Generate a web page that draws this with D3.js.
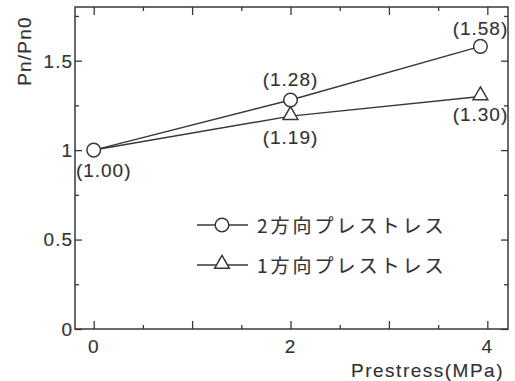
<!DOCTYPE html>
<html>
<head>
<meta charset="utf-8">
<script src="https://cdn.jsdelivr.net/npm/d3@7"></script>
<style>
  body { margin: 0; background: #fff; }
  svg { display: block; font-family: "Liberation Sans", Arial, sans-serif; }
</style>
</head>
<body>
<svg id="chart" width="515" height="381"></svg>
<script>
// Values
var prestress = [0, 2, 3.93];
var twoWay = [1.00, 1.28, 1.58];
var oneWay = [1.00, 1.19, 1.30];
var twoWayLabels = ['(1.00)', '(1.28)', '(1.58)'];
var oneWayLabels = ['', '(1.19)', '(1.30)'];
var legendNames = ['2方向プレストレス', '1方向プレストレス'];
var yMajor = [0, 0.5, 1, 1.5];
var yMinor = [0.25, 0.75, 1.25, 1.75];
var xMajor = [0, 1, 2, 3, 4];
var xMinor = [0.5, 1.5, 2.5, 3.5];
var xLabels = [0, 2, 4];

var ink = '#383838';
var textInk = '#333';
var svg = d3.select('#chart');
var plotLeft = 75, plotRight = 508, plotTop = 7, plotBottom = 329;

var x = d3.scaleLinear().domain([-0.19, 4.21]).range([plotLeft, plotRight]);
var y = d3.scaleLinear().domain([0, 1.8]).range([plotBottom, plotTop]);

// Frame
svg.append('rect')
  .attr('x', plotLeft).attr('y', plotTop)
  .attr('width', plotRight - plotLeft).attr('height', plotBottom - plotTop)
  .attr('fill', 'none').attr('stroke', ink).attr('stroke-width', 1.5);

// Inward ticks on all four sides
function ticks(axisFn, scale, values, size, transform) {
  var g = svg.append('g')
    .attr('transform', transform)
    .call(axisFn(scale).tickValues(values).tickSizeInner(-size).tickSizeOuter(0).tickFormat(''));
  g.select('.domain').remove();
  g.selectAll('line').attr('stroke', ink).attr('stroke-width', 1.3);
}
ticks(d3.axisLeft, y, yMajor, 7, 'translate(' + plotLeft + ',0)');
ticks(d3.axisLeft, y, yMinor, 4, 'translate(' + plotLeft + ',0)');
ticks(d3.axisRight, y, yMajor, 7, 'translate(' + plotRight + ',0)');
ticks(d3.axisRight, y, yMinor, 4, 'translate(' + plotRight + ',0)');
ticks(d3.axisBottom, x, xMajor, 8, 'translate(0,' + plotBottom + ')');
ticks(d3.axisBottom, x, xMinor, 4, 'translate(0,' + plotBottom + ')');
ticks(d3.axisTop, x, xMajor, 8, 'translate(0,' + plotTop + ')');
ticks(d3.axisTop, x, xMinor, 4, 'translate(0,' + plotTop + ')');

// Slightly heavy print-like text
function label(sel, size, spacing) {
  return sel.attr('font-size', size).attr('letter-spacing', spacing)
    .attr('fill', textInk).attr('stroke', textInk).attr('stroke-width', 0.15);
}

// Tick labels
label(svg.append('g').selectAll('text').data(yMajor).enter().append('text'), 19, 1)
  .attr('x', plotLeft - 2).attr('y', function(d) { return y(d); })
  .attr('dy', '0.36em').attr('text-anchor', 'end')
  .text(function(d) { return d; });
label(svg.append('g').selectAll('text').data(xLabels).enter().append('text'), 19, 1)
  .attr('x', function(d) { return x(d); }).attr('y', 353)
  .attr('text-anchor', 'middle')
  .text(function(d) { return d; });

// Axis titles
label(svg.append('text'), 19, 1.2)
  .attr('transform', 'translate(31,51) rotate(-90)')
  .attr('text-anchor', 'middle')
  .text('Pn/Pn0');
label(svg.append('text'), 19, 1.5)
  .attr('x', 504).attr('y', 377)
  .attr('text-anchor', 'end')
  .text('Prestress(MPa)');

// Lines
var line = d3.line()
  .x(function(d) { return x(d[0]); })
  .y(function(d) { return y(d[1]); });
var series = [d3.zip(prestress, oneWay), d3.zip(prestress, twoWay)];
svg.append('g').selectAll('path').data(series).enter().append('path')
  .attr('d', line).attr('fill', 'none')
  .attr('stroke', ink).attr('stroke-width', 1.5);

// Markers
var tri = d3.symbol().type(d3.symbolTriangle).size(95);
svg.append('g').selectAll('path').data(d3.zip(prestress, oneWay).slice(1)).enter().append('path')
  .attr('d', tri)
  .attr('transform', function(d) { return 'translate(' + x(d[0]) + ',' + (y(d[1]) - 1) + ')'; })
  .attr('fill', '#fff').attr('stroke', ink).attr('stroke-width', 1.5);
svg.append('g').selectAll('circle').data(d3.zip(prestress, twoWay)).enter().append('circle')
  .attr('cx', function(d) { return x(d[0]); })
  .attr('cy', function(d) { return y(d[1]); })
  .attr('r', 6.8)
  .attr('fill', '#fff').attr('stroke', ink).attr('stroke-width', 1.5);

// Data labels
var twoWayOffsets = [[10, 27], [0, -14], [0, -11]];
var oneWayOffsets = [[0, 0], [0, 28], [0, 25]];
label(svg.append('g').selectAll('text').data(d3.range(prestress.length)).enter().append('text'), 19, 1)
  .attr('x', function(i) { return x(prestress[i]) + twoWayOffsets[i][0]; })
  .attr('y', function(i) { return y(twoWay[i]) + twoWayOffsets[i][1]; })
  .attr('text-anchor', 'middle')
  .text(function(i) { return twoWayLabels[i]; });
label(svg.append('g').selectAll('text').data(d3.range(prestress.length)).enter().append('text'), 19, 1)
  .attr('x', function(i) { return x(prestress[i]) + oneWayOffsets[i][0]; })
  .attr('y', function(i) { return y(oneWay[i]) + oneWayOffsets[i][1]; })
  .attr('text-anchor', 'middle')
  .text(function(i) { return oneWayLabels[i]; });

// Legend
var legend = svg.append('g').selectAll('g').data(legendNames).enter().append('g')
  .attr('transform', function(d, i) { return 'translate(197,' + (225 + i * 40) + ')'; });
legend.append('line')
  .attr('x1', 0).attr('x2', 51).attr('y1', 0).attr('y2', 0)
  .attr('stroke', ink).attr('stroke-width', 1.5);
legend.filter(function(d, i) { return i === 0; }).append('circle')
  .attr('cx', 25).attr('cy', 0).attr('r', 6.8)
  .attr('fill', '#fff').attr('stroke', ink).attr('stroke-width', 1.5);
legend.filter(function(d, i) { return i === 1; }).append('path')
  .attr('d', tri).attr('transform', 'translate(25,-1)')
  .attr('fill', '#fff').attr('stroke', ink).attr('stroke-width', 1.5);
label(legend.append('text'), 19, 3)
  .attr('x', 60).attr('y', 8)
  .attr('font-family', '"Noto Sans CJK JP", sans-serif')
  .text(function(d) { return d; });
</script>
</body>
</html>
